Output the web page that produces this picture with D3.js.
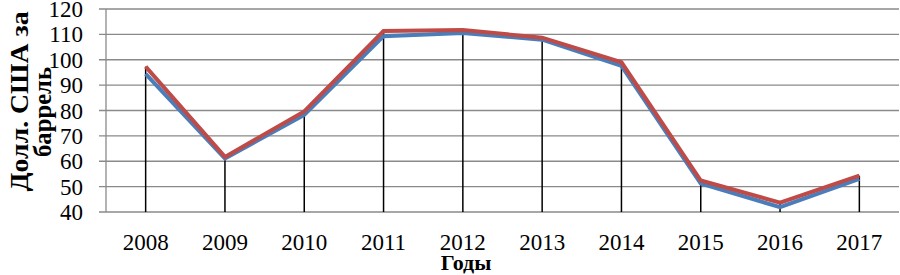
<!DOCTYPE html>
<html>
<head>
<meta charset="utf-8">
<script src="https://cdn.jsdelivr.net/npm/d3@7"></script>
<style>
    body { margin: 0; background: #fff; }
    text { font-family: "Liberation Serif", "Times New Roman", serif; fill: #000; }
</style>
</head>
<body>
<svg id="chart" width="900" height="275"></svg>
<script>
// data
const years = ['2008', '2009', '2010', '2011', '2012', '2013', '2014', '2015', '2016', '2017'];
const brent = [97.3, 61.7, 79.6, 111.3, 111.7, 108.7, 99.0, 52.4, 43.7, 54.3];
const urals = [94.4, 61.1, 78.3, 109.3, 110.5, 107.9, 97.6, 51.2, 41.9, 53.1];
const yTicks = [40, 50, 60, 70, 80, 90, 100, 110, 120];

const svg = d3.select('#chart');
const margin = { left: 106, right: 1, top: 9, bottom: 63 };
const width = 900 - margin.left - margin.right;
const height = 275 - margin.top - margin.bottom;

const g = svg.append('g').attr('transform', `translate(${margin.left},${margin.top})`);

const x = d3.scaleBand().domain(years).range([0, width]);
const y = d3.scaleLinear().domain([40, 120]).range([height, 0]);
const cx = d => x(d) + x.bandwidth() / 2;

// horizontal gridlines + left ticks
g.selectAll('.grid')
    .data(yTicks)
    .enter().append('line')
    .attr('x1', -7)
    .attr('x2', width)
    .attr('y1', d => y(d))
    .attr('y2', d => y(d))
    .attr('stroke', '#8a8a8a')
    .attr('stroke-width', 1.3);

// left axis line
g.append('line')
    .attr('x1', 0).attr('x2', 0)
    .attr('y1', 0).attr('y2', height)
    .attr('stroke', '#8a8a8a')
    .attr('stroke-width', 1.3);

// y tick labels
g.selectAll('.ylab')
    .data(yTicks)
    .enter().append('text')
    .attr('x', -23)
    .attr('y', d => y(d))
    .attr('dy', '0.35em')
    .attr('text-anchor', 'end')
    .style('font-size', '23px')
    .text(d => d);

// drop lines
g.selectAll('.drop')
    .data(years)
    .enter().append('line')
    .attr('x1', d => cx(d))
    .attr('x2', d => cx(d))
    .attr('y1', (d, i) => y(Math.max(brent[i], urals[i])))
    .attr('y2', height)
    .attr('stroke', '#000')
    .attr('stroke-width', 1.5);

const line = d3.line()
    .x((d, i) => cx(years[i]))
    .y(d => y(d));

g.append('path')
    .datum(urals)
    .attr('d', line)
    .attr('fill', 'none')
    .attr('stroke', '#4a7ebb')
    .attr('stroke-width', 4);

g.append('path')
    .datum(brent)
    .attr('d', line)
    .attr('fill', 'none')
    .attr('stroke', '#be4b48')
    .attr('stroke-width', 4);

// x tick labels
g.selectAll('.xlab')
    .data(years)
    .enter().append('text')
    .attr('x', d => cx(d))
    .attr('y', height + 38)
    .attr('text-anchor', 'middle')
    .style('font-size', '23px')
    .text(d => d);

// axis titles
svg.append('text')
    .attr('x', 466)
    .attr('y', 270)
    .attr('text-anchor', 'middle')
    .style('font-size', '22px')
    .style('font-weight', 'bold')
    .text('Годы');

const yTitle = svg.append('text')
    .attr('transform', 'translate(28,105) rotate(-90)')
    .attr('text-anchor', 'middle')
    .style('font-size', '25px')
    .style('font-weight', 'bold');
yTitle.append('tspan').attr('x', 3.5).attr('y', 0)
    .attr('textLength', 180).attr('lengthAdjust', 'spacingAndGlyphs')
    .text('Долл. США за');
yTitle.append('tspan').attr('x', -7).attr('y', 23)
    .attr('textLength', 90).attr('lengthAdjust', 'spacingAndGlyphs')
    .text('баррель');
</script>
</body>
</html>
